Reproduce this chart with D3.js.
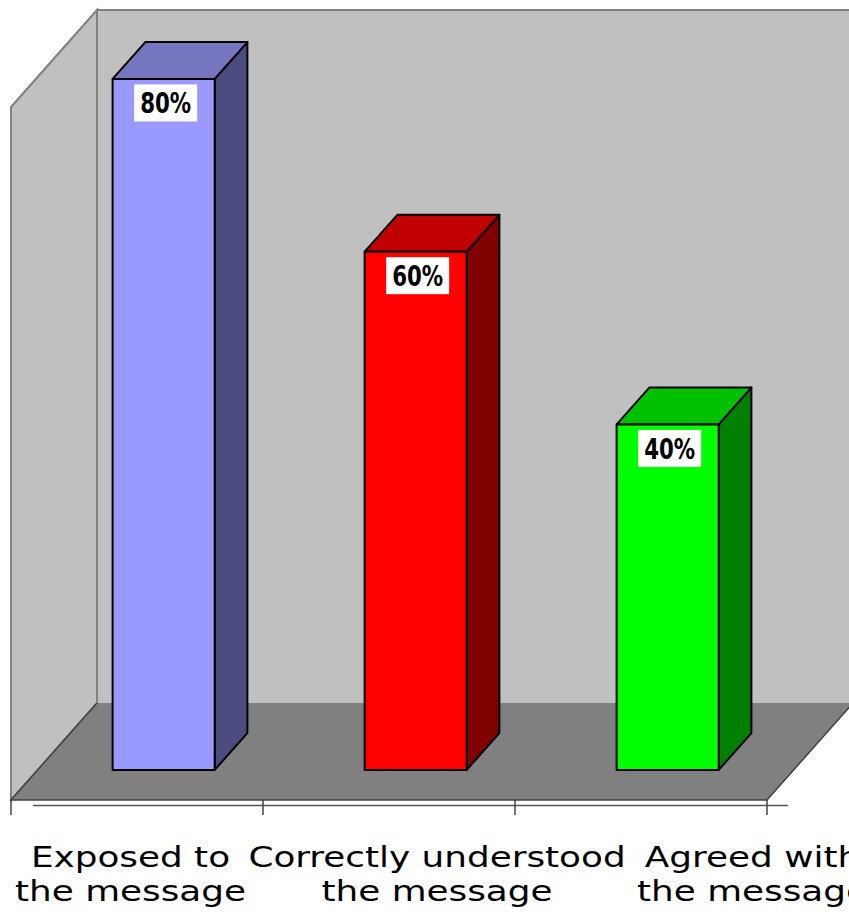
<!DOCTYPE html>
<html><head><meta charset="utf-8">
<script src="https://cdn.jsdelivr.net/npm/d3@7"></script>
<style>html,body{margin:0;padding:0;background:#fff;overflow:hidden}</style>
</head><body>
<svg id="chart" width="849" height="920"></svg>
<script>
const categories = ["Exposed to the message", "Correctly understood the message", "Agreed with the message"];
const categoryLines = [["Exposed to", "the message"], ["Correctly understood", "the message"], ["Agreed with", "the message"]];
const values = [0.8, 0.6, 0.4];
const valueMax = 0.8;

const frontColors = ["#9999ff", "#ff0000", "#00ff00"];
const topColors = ["#7575c0", "#c00000", "#00c000"];
const sideColors = ["#4c4c80", "#800000", "#008000"];

const W = 849, H = 920;
const frontLeft = 11, frontRight = 767, floorFrontY = 800;
const depthDX = 86, depthDY = -97;
const zFront = 0.31, zBack = 0.69;
const svg = d3.select("#chart");

const x = d3.scaleBand().domain(categories).range([frontLeft, frontRight]);
const h = d3.scaleLinear().domain([0, valueMax]).range([0, 691]);
const wallH = h(valueMax) + 2;
function P(px, z, hh) { return [px + depthDX * z, floorFrontY + depthDY * z - hh]; }
const poly = pts => pts.map(p => p.join(",")).join(" ");

// back wall
svg.append("polygon")
  .attr("points", poly([P(frontLeft, 1, 0), P(frontLeft, 1, wallH), P(frontRight, 1, wallH), P(frontRight, 1, 0)]))
  .attr("fill", "#c0c0c0");
svg.append("polyline")
  .attr("points", poly([P(frontLeft, 1, 0), P(frontLeft, 1, wallH), P(frontRight, 1, wallH)]))
  .attr("fill", "none").attr("stroke", "#808080").attr("stroke-width", 2);
// left wall
svg.append("polygon")
  .attr("points", poly([P(frontLeft, 0, 0), P(frontLeft, 0, wallH), P(frontLeft, 1, wallH), P(frontLeft, 1, 0)]))
  .attr("fill", "#c0c0c0").attr("stroke", "#808080").attr("stroke-width", 2);
// floor
svg.append("polygon")
  .attr("points", poly([P(frontLeft, 0, 0), P(frontRight, 0, 0), P(frontRight, 1, 0), P(frontLeft, 1, 0)]))
  .attr("fill", "#808080");
svg.append("polyline")
  .attr("points", poly([P(frontLeft, 1, 0), P(frontLeft, 0, 0), P(frontRight, 0, 0), P(frontRight, 1, 0)]))
  .attr("fill", "none").attr("stroke", "#404040").attr("stroke-width", 1.5);

// bars
const bw = x.bandwidth();
const barW = bw * 0.405;
const bars = svg.append("g").selectAll("g").data(categories).join("g");
bars.each(function (c, i) {
  const g = d3.select(this);
  const x0 = x(c) + (bw - barW) / 2, x1 = x0 + barW, hv = h(values[i]);
  g.append("polygon").attr("points", poly([P(x1, zFront, 0), P(x1, zBack, 0), P(x1, zBack, hv), P(x1, zFront, hv)]))
    .attr("fill", sideColors[i]).attr("stroke", "#000").attr("stroke-width", 2).attr("stroke-linejoin", "round");
  g.append("polygon").attr("points", poly([P(x0, zFront, hv), P(x1, zFront, hv), P(x1, zBack, hv), P(x0, zBack, hv)]))
    .attr("fill", topColors[i]).attr("stroke", "#000").attr("stroke-width", 2).attr("stroke-linejoin", "round");
  g.append("polygon").attr("points", poly([P(x0, zFront, 0), P(x1, zFront, 0), P(x1, zFront, hv), P(x0, zFront, hv)]))
    .attr("fill", frontColors[i]).attr("stroke", "#000").attr("stroke-width", 2).attr("stroke-linejoin", "round");
  // value label
  const top = P(x0, zFront, hv);
  const cx = (P(x0, zFront, 0)[0] + P(x1, zFront, 0)[0]) / 2 + 2;
  const cy = top[1] + 24;
  g.append("rect").attr("x", cx - 31.5).attr("y", cy - 18.5).attr("width", 63).attr("height", 37).attr("fill", "#fff");
  g.append("text").attr("x", cx).attr("y", cy + 10.5).attr("text-anchor", "middle")
    .attr("font-family", "'Liberation Sans Narrow','Arial Narrow','DejaVu Sans Condensed',sans-serif")
    .attr("font-weight", "bold").attr("font-size", 29)
    .attr("textLength", 51).attr("lengthAdjust", "spacingAndGlyphs")
    .attr("fill", "#000").text(d3.format(".0%")(values[i]));
});

// category axis
svg.append("line").attr("x1", frontLeft + 22).attr("x2", frontRight + 21)
  .attr("y1", floorFrontY + 5.5).attr("y2", floorFrontY + 5.5)
  .attr("stroke", "#555").attr("stroke-width", 1.5);
const tickXs = categories.map(c => x(c)).concat([frontRight]);
svg.append("g").selectAll("line").data(tickXs).join("line")
  .attr("x1", d => d).attr("x2", d => d).attr("y1", floorFrontY).attr("y2", floorFrontY + 15)
  .attr("stroke", "#444").attr("stroke-width", 1.5);

// category labels
const labelX = d3.scalePoint().domain(categories).range([121.5, 752.5]);
const lblFont = "'DejaVu Sans',sans-serif";
const lblSize = 29;
const lines1 = [867, 901];
// measure to find a uniform width factor
const probe = svg.append("text").attr("font-family", lblFont).attr("font-size", lblSize).text("the message");
const factor = 231 / probe.node().getComputedTextLength();
probe.remove();
categories.forEach((c, i) => {
  const linesTxt = categoryLines[i];
  const widths = linesTxt.map(t => {
    const p = svg.append("text").attr("font-family", lblFont).attr("font-size", lblSize).text(t);
    const w = p.node().getComputedTextLength() * factor; p.remove(); return w;
  });
  let cx = labelX(c);
  const maxW = d3.max(widths);
  if (cx - maxW / 2 < 15) cx = 15 + maxW / 2;
  linesTxt.forEach((t, j) => {
    svg.append("text").attr("x", cx).attr("y", lines1[j]).attr("text-anchor", "middle")
      .attr("font-family", lblFont).attr("font-size", lblSize).attr("fill", "#000")
      .attr("textLength", widths[j]).attr("lengthAdjust", "spacingAndGlyphs")
      .text(t);
  });
});
</script>
</body></html>
